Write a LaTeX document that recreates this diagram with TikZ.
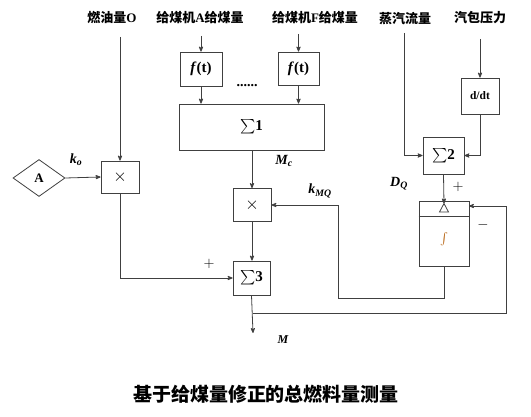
\documentclass[tikz,border=0pt]{standalone}
\usepackage{amsmath}
\usepackage{fontspec}
\setmainfont{Liberation Serif}
\newfontfamily\cjk{Noto Sans CJK SC}
\usetikzlibrary{arrows,shapes.geometric}

\newcommand{\bi}[1]{{\bfseries\itshape #1}}

\begin{document}
\begin{tikzpicture}[x=1pt,y=-1pt,->,>=stealth',line width=0.8pt,draw=black!75]

        \tikzstyle{blk}=[draw=black!75,rectangle,fill=white,inner sep=0pt,font=\fontsize{15}{16}\selectfont]
        \tikzstyle{mul}=[blk,font=\fontsize{19}{20}\selectfont]
        \tikzstyle{lbl}=[font=\cjk\bfseries\fontsize{13}{14}\selectfont]
        \tikzstyle{sym}=[font=\fontsize{14}{16}\selectfont]

        \useasboundingbox (0,0) rectangle (531,417);

        % inputs
        \node[lbl] (oil)   at (112,18) {燃油量\textbf{\rmfamily O}};
        \node[lbl] (feedA) at (200,18) {给煤机\textbf{\rmfamily A}给煤量};
        \node[lbl] (feedF) at (315,18) {给煤机\textbf{\rmfamily F}给煤量};
        \node[lbl] (steam) at (405,19) {蒸汽流量};
        \node[lbl] (press) at (480,18) {汽包压力};

        % blocks
        \node[diamond,draw=black!75,inner sep=0pt,minimum width=52,minimum height=37,font=\fontsize{13}{14}\selectfont] (A) at (39,178) {\textbf{A}};
        \node[mul,minimum width=38,minimum height=32] (x1) at (120,177) {$\times$};
        \node[blk,minimum width=42,minimum height=34] (f1) at (201,69) {\bi{f}\textbf{(t)}};
        \node[blk,minimum width=41,minimum height=33] (f2) at (298.5,68.5) {\bi{f}\textbf{(t)}};
        \node[blk,minimum width=145,minimum height=46] (S1) at (251.5,127) {$\sum$\textbf{1}};
        \node[mul,minimum width=38,minimum height=33] (x2) at (252,205) {$\times$};
        \node[blk,minimum width=37,minimum height=34] (S3) at (251.5,278) {$\sum$\textbf{3}};
        \node[blk,minimum width=41,minimum height=37] (S2) at (443.5,155.5) {$\sum$\textbf{2}};
        \node[blk,minimum width=38,minimum height=36,font=\fontsize{11.5}{12}\selectfont] (ddt) at (480,96) {\textbf{d/dt}};
        \node[blk,minimum width=50,minimum height=65] (integ) at (444,233.5) {};
        \node[text=orange!70!black,font=\fontsize{12}{12}\selectfont] (int) at (444,239) {$\int$};

        \draw[-] (integ.north west) ++(0,16) -- ++(50,0);
        \draw[-] (439.5,212) -- (444,203.5) -- (448.5,212) -- cycle;
        \coordinate (tri) at (444,203.5);
        \coordinate (intin) at (469,206);
        \coordinate (tap) at (253,313);
        \coordinate (out) at (253,333);

        % connections
        \draw (x1 |- oil.south) [shorten <=9pt] -- (x1.north);
        \draw (f1 |- feedA.south) [shorten <=8pt] -- (f1.north);
        \draw (f2 |- feedF.south) [shorten <=6pt] -- (f2.north);
        \draw (A.east) -- (x1.west);
        \draw (f1.south) -- (f1.south |- S1.north);
        \draw (f2.south) -- (f2.south |- S1.north);
        \draw (S1.south -| x2) -- (x2.north);
        \draw (x2.south) -- (x2.south |- S3.north);
        \draw (x1.south) |- (S3.west);
        \draw (S3.south) -- (out);
        \draw (404,33) |- (S2.west);
        \draw (ddt |- press.south) [shorten <=11pt] -- (ddt.north);
        \draw (ddt.south) |- (S2.east);
        \draw (S2.south) -- (tri);
        \draw (tap) -- ++(253,0) |- (intin);
        \draw (integ.south) -- ++(0,32) -- ++(-106,0) |- (x2.east);

        % labels
        \node[sym] (ko)  at (76,160) {\bi{k}\textsubscript{\bi{o}}};
        \node[sym] (Mc)  at (284,161) {\bi{M}\textsubscript{\bi{c}}};
        \node[sym] (kmq) at (320,191) {\bi{k}\textsubscript{\bi{MQ}}};
        \node[sym] (dq)  at (399,184) {\bi{D}\textsubscript{\bi{Q}}};
        \node[sym] (p1)  at (458,187) {$+$};
        \node[sym] (p2)  at (209,264) {$+$};
        \node[sym] (m1)  at (483,225) {$-$};
        \node[sym,font=\fontsize{12}{14}\selectfont] (M) at (283,340) {\bi{M}};
        \node[sym] (dots) at (247,86) {\textbf{......}};

        \node[font=\cjk\bfseries\fontsize{19}{20}\selectfont] (cap) at (266,394) {基于给煤量修正的总燃料量测量};

\end{tikzpicture}
\end{document}
